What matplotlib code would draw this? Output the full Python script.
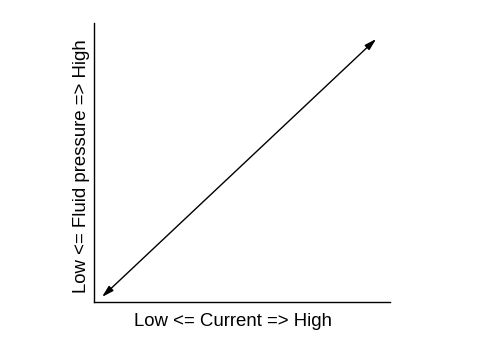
import matplotlib
matplotlib.use("Agg")
import matplotlib.pyplot as plt

# relationship: current vs fluid pressure (qualitative, both ends arrowed)
x_pts = [0.027, 0.953]
y_pts = [0.018, 0.943]
x_label = "Low <= Current => High"
y_label = "Low <= Fluid pressure => High"

plt.rcParams['font.family'] = ['Liberation Sans', 'DejaVu Sans']

fig = plt.figure(figsize=(4.8, 3.4), dpi=100)
ax = fig.add_axes([0.196, 0.112, 0.6165, 0.82])
ax.set_xlim(0, 1)
ax.set_ylim(0, 1)

ax.annotate("", xy=(x_pts[1], y_pts[1]), xytext=(x_pts[0], y_pts[0]),
            arrowprops=dict(arrowstyle="<|-|>,head_length=0.7,head_width=0.2",
                            color="black", lw=1, shrinkA=0, shrinkB=0))

ax.spines['top'].set_visible(False)
ax.spines['right'].set_visible(False)
for s in ['left', 'bottom']:
    ax.spines[s].set_linewidth(1)
ax.set_xticks([])
ax.set_yticks([])
ax.set_xlabel(x_label, fontsize=13.4)
ax.set_ylabel(y_label, fontsize=13.4)
# labels sit a little off-centre in the original
ax.xaxis.set_label_coords(0.468, -0.041)
ax.yaxis.set_label_coords(-0.0135, 0.487)

fig.savefig("out.png", dpi=100)
